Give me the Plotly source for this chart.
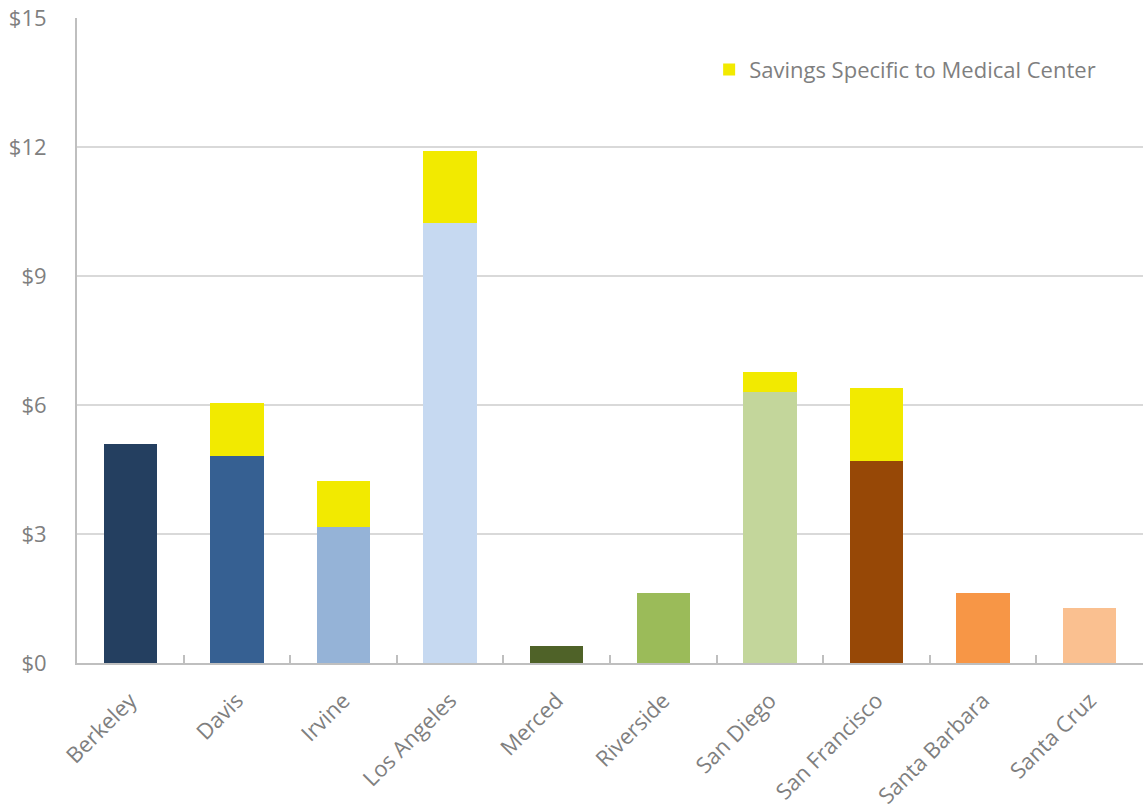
import plotly.graph_objects as go

campuses = ["Berkeley", "Davis", "Irvine", "Los Angeles", "Merced", "Riverside",
            "San Diego", "San Francisco", "Santa Barbara", "Santa Cruz"]
campus_savings = [5.10, 4.81, 3.16, 10.23, 0.40, 1.63, 6.30, 4.70, 1.63, 1.28]
medical_savings = [0, 1.24, 1.07, 1.68, 0, 0, 0.47, 1.70, 0, 0]
campus_colors = ["#243F60", "#366092", "#95B3D7", "#C6D9F1", "#4F6228", "#9BBB59",
                 "#C3D69B", "#974806", "#F79646", "#FAC090"]
medical_color = "#F2EA00"
y_ticks = [0, 3, 6, 9, 12, 15]
y_tick_labels = ["$0", "$3", "$6", "$9", "$12", "$15"]

FONT = "Open Sans"
GRAY = "#7F7F7F"

fig = go.Figure()
fig.add_trace(go.Bar(x=campuses, y=campus_savings, marker=dict(color=campus_colors, line=dict(width=0)),
                     showlegend=False, name="Campus"))
fig.add_trace(go.Bar(x=campuses, y=medical_savings, marker=dict(color=medical_color, line=dict(width=0)),
                     name="Savings Specific to Medical Center"))

fig.update_layout(
    width=1143, height=812,
    margin=dict(l=77, r=0, t=18, b=149),
    barmode="stack", bargap=0.5,
    plot_bgcolor="white", paper_bgcolor="white",
    font=dict(family=FONT, color=GRAY, size=22),
    legend=dict(x=0.593, y=0.92, xanchor="left", yanchor="middle",
                font=dict(size=22, color=GRAY), bgcolor="rgba(0,0,0,0)",
                traceorder="normal"),
)
fig.update_xaxes(
    showline=True, linecolor="#BFBFBF", linewidth=2,
    ticks="inside", tickson="boundaries", ticklen=8, tickcolor="#BFBFBF", tickwidth=2,
    tickangle=-45, tickfont=dict(size=22, color=GRAY, family=FONT),
    ticklabelstandoff=14,
    showgrid=False,
)
fig.update_yaxes(
    range=[0, 15], tickvals=y_ticks, ticktext=y_tick_labels,
    showline=True, linecolor="#BFBFBF", linewidth=2,
    showgrid=True, gridcolor="#D9D9D9", gridwidth=1.5,
    ticks="", ticklabelstandoff=24, tickfont=dict(size=22, color=GRAY, family=FONT),
    zeroline=False,
)

fig.write_html("out.html")
